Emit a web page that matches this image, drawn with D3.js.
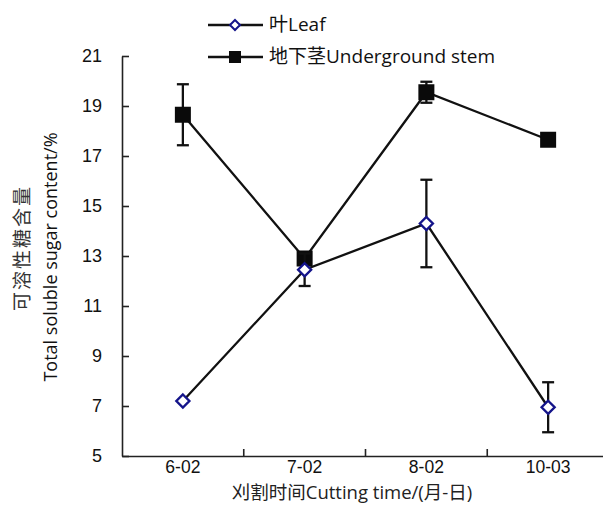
<!DOCTYPE html>
<html lang="zh">
<head>
    <meta charset="UTF-8">
    <title>Total soluble sugar content</title>
    <script src="https://d3js.org/d3.v7.min.js"></script>
    <style>
        body {
            margin: 0;
            background: #fff;
            font-family: "Open Sans", "Noto Sans CJK SC", sans-serif;
        }
        .axis path, .axis line {
            stroke: #222;
            stroke-width: 1.6;
        }
        .axis text {
            font-size: 18px;
            fill: #111;
        }
    </style>
</head>
<body>
    <svg width="603" height="505"></svg>

    <script>
        // cutting dates
        let categories = ["6-02", "7-02", "8-02", "10-03"];

        // leaf series (mean, error)
        let leafValues = [7.2, 12.45, 14.3, 6.95];
        let leafErrors = [0, 0.65, 1.75, 1.0];

        // underground stem series (mean, error)
        let stemValues = [18.65, 12.9, 19.55, 17.65];
        let stemErrors = [1.22, 0.2, 0.42, 0.2];

        let yTicks = [5, 7, 9, 11, 13, 15, 17, 19, 21];

        let width = 603, height = 505;
        let margin = { top: 56, bottom: 49, left: 122, right: -6 };

        let svg = d3.select("svg");

        let xscale = d3.scaleBand()
            .domain(categories)
            .range([margin.left, width - margin.right])
            .padding(0);

        let yscale = d3.scaleLinear()
            .domain([5, 21])
            .range([height - margin.bottom, margin.top]);

        let cx = d => xscale(d) + xscale.bandwidth() / 2;

        // y axis, ticks pointing inward
        svg.append("g")
            .attr("class", "axis")
            .attr("transform", `translate(${margin.left}, 0)`)
            .call(d3.axisLeft(yscale).tickValues(yTicks).tickSizeInner(-7).tickSizeOuter(0).tickPadding(20));

        // x axis: labels at centres, ticks between bands
        let xAxis = svg.append("g")
            .attr("class", "axis")
            .attr("transform", `translate(0, ${height - margin.bottom})`)
            .call(d3.axisBottom(xscale).tickSize(0).tickPadding(5));

        xAxis.selectAll(".tick text").style("font-size", "17.5px");
        xAxis.selectAll(".tick line").remove();
        xAxis.selectAll(".sep")
            .data(categories.slice(1))
            .enter().append("line")
            .attr("class", "sep")
            .attr("x1", d => xscale(d))
            .attr("x2", d => xscale(d))
            .attr("y1", 0)
            .attr("y2", -7);

        // axis titles
        svg.append("text")
            .attr("x", 352)
            .attr("y", 499)
            .attr("text-anchor", "middle")
            .style("font-size", "18.5px")
            .style("fill", "#222")
            .text("刈割时间Cutting time/(月-日)");

        svg.append("text")
            .attr("transform", "rotate(-90)")
            .attr("x", -248)
            .attr("y", 29)
            .attr("text-anchor", "middle")
            .style("font-size", "19px")
            .style("letter-spacing", "2px")
            .style("fill", "#333")
            .text("可溶性糖含量");

        svg.append("text")
            .attr("transform", "rotate(-90)")
            .attr("x", -257)
            .attr("y", 57)
            .attr("text-anchor", "middle")
            .style("font-size", "18px")
            .style("fill", "#111")
            .text("Total soluble sugar content/%");

        let line = d3.line()
            .x((d, i) => cx(categories[i]))
            .y(d => yscale(d));

        function errorBars(values, errors) {
            let g = svg.append("g")
                .attr("stroke", "#111")
                .attr("stroke-width", 2.3);
            values.forEach(function (v, i) {
                if (!errors[i]) return;
                let x = cx(categories[i]);
                let top = yscale(v + errors[i]);
                let bottom = yscale(v - errors[i]);
                g.append("line").attr("x1", x).attr("x2", x).attr("y1", top).attr("y2", bottom);
                g.append("line").attr("x1", x - 6).attr("x2", x + 6).attr("y1", top).attr("y2", top);
                g.append("line").attr("x1", x - 6).attr("x2", x + 6).attr("y1", bottom).attr("y2", bottom);
            });
        }

        let diamond = "M0,-6.5L6.5,0L0,6.5L-6.5,0Z";

        // underground stem
        errorBars(stemValues, stemErrors);
        svg.append("path")
            .datum(stemValues)
            .attr("fill", "none")
            .attr("stroke", "#111")
            .attr("stroke-width", 2.3)
            .attr("d", line);
        svg.selectAll(".stem")
            .data(stemValues)
            .enter().append("rect")
            .attr("class", "stem")
            .attr("x", (d, i) => cx(categories[i]) - 8)
            .attr("y", d => yscale(d) - 8)
            .attr("width", 16)
            .attr("height", 16)
            .attr("fill", "#0a0a0a");

        // leaf
        errorBars(leafValues, leafErrors);
        svg.append("path")
            .datum(leafValues)
            .attr("fill", "none")
            .attr("stroke", "#111")
            .attr("stroke-width", 2.3)
            .attr("d", line);
        svg.selectAll(".leaf")
            .data(leafValues)
            .enter().append("path")
            .attr("class", "leaf")
            .attr("transform", (d, i) => `translate(${cx(categories[i])}, ${yscale(d)})`)
            .attr("d", diamond)
            .attr("fill", "#fff")
            .attr("stroke", "#14148a")
            .attr("stroke-width", 2.4);

        // legend
        let legend = [
            { label: "叶Leaf", y: 25, type: "leaf" },
            { label: "地下茎Underground stem", y: 57, type: "stem" }
        ];
        legend.forEach(function (item) {
            let g = svg.append("g");
            g.append("line")
                .attr("x1", 208).attr("x2", 263)
                .attr("y1", item.y).attr("y2", item.y)
                .attr("stroke", "#111").attr("stroke-width", 2.3);
            if (item.type === "leaf") {
                g.append("path")
                    .attr("transform", `translate(235, ${item.y})`)
                    .attr("d", "M0,-5L5,0L0,5L-5,0Z")
                    .attr("fill", "#fff")
                    .attr("stroke", "#14148a")
                    .attr("stroke-width", 2);
            } else {
                g.append("rect")
                    .attr("x", 229).attr("y", item.y - 6)
                    .attr("width", 12).attr("height", 12)
                    .attr("fill", "#0a0a0a");
            }
            g.append("text")
                .attr("x", 269)
                .attr("y", item.y + 6)
                .style("font-size", "19px")
                .style("fill", "#111")
                .text(item.label);
        });
    </script>
</body>
</html>
